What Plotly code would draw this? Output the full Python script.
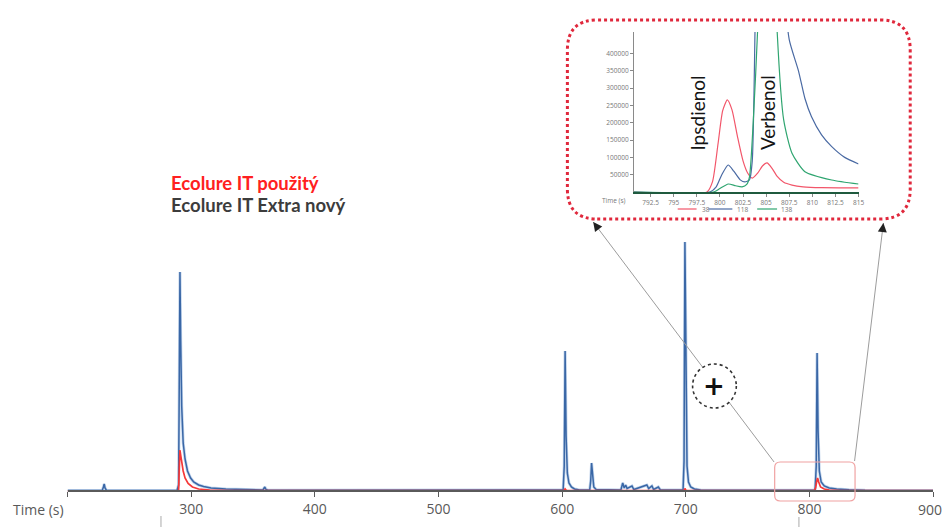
import plotly.graph_objects as go

# ---------------- main chromatogram (retention time in s, relative abundance) ----------------
extra_t = [200, 228, 229, 229.6, 230.3, 231.5, 288.5, 289.8, 290.4, 290.9, 291.5, 292.3, 293.5,
           295, 297, 299.5, 302, 306, 310, 316, 328, 345, 358, 359.5, 360.5, 362, 450, 540,
           600.8, 601.7, 602.4, 603.2, 604.2, 605.5, 607.5, 610, 614, 622.3, 623.1, 623.8, 624.6,
           625.6, 627.5, 647.5, 649, 650.2, 651.4, 652.5, 656.5, 658, 668.5, 670, 672.6, 674,
           677.8, 679.5, 697.8, 698.6, 699.3, 700.1, 701, 702.2, 704, 707, 712, 760, 804.6,
           805.5, 806.2, 807, 808, 809.5, 812, 816, 822, 832, 845, 900]
extra_y = [0.5, 0.5, 4, 7, 3, 0.5, 0.5, 6, 120, 219, 150, 85, 48,
           32, 20, 13, 9, 6, 4.5, 3, 2, 1.2, 1, 4, 1.5, 0.8, 0.6, 0.6,
           1, 25, 140, 55, 18, 8, 4, 2, 1, 1, 10, 28, 12,
           4, 1.5, 1, 8, 3, 6, 2.5, 5, 1.5, 6, 2.5, 5, 1.5,
           4, 1, 1, 30, 249, 100, 25, 9, 4, 2, 1, 0.7, 1,
           25, 138, 60, 20, 9, 5, 3, 2, 1.3, 0.8, 0.5]

used_t = [200, 289.8, 290.4, 290.9, 291.6, 292.5, 293.5, 295, 297.5, 301, 306, 315, 330,
          601.5, 602.4, 603.5, 698.6, 699.3, 700.3, 804, 805, 805.8, 806.6, 807.5, 809,
          812, 816, 825, 900]
used_y = [0, 0.3, 25, 41, 35, 27, 20, 13, 7.5, 4, 2, 1, 0.4,
          0.4, 2, 0.4, 0.4, 2.5, 0.4, 0.5, 3, 9, 13, 9, 4,
          2, 1, 0.5, 0.3]

main_ticks = [200, 300, 400, 500, 600, 700, 800, 900]
main_ticktext = ["", "300", "400", "500", "600", "700", "800", ""]
last_tick_label = "900"               # drawn separately so it stays inside the page
zoom_window = (771.9, 836.9)          # retention-time window enlarged in the inset

# ---------------- inset: extracted ions around 790–815 s ----------------
ion38_t = [790.7, 798.6, 799.2, 799.8, 800.3, 800.8, 801.3, 801.9, 802.5, 803.0, 803.5, 804.1,
           804.6, 805.1, 805.6, 806.2, 806.9, 807.8, 809, 811, 815]
ion38_v = [0, 0, 30000, 140000, 235000, 266000, 238000, 160000, 90000, 55000, 40000, 55000,
           75000, 84000, 70000, 45000, 28000, 20000, 15000, 12500, 12000]

ion118_t = [790.7, 798.9, 799.6, 800.2, 800.9, 801.5, 802.2, 802.7, 803.2, 803.5, 803.8, 804.2,
            805.5, 806.8, 807.0, 807.5, 808.5, 809.2, 809.9, 811.0, 812.1, 813.5, 815]
ion118_v = [0, 0, 15000, 50000, 78000, 60000, 35000, 29000, 35000, 90000, 470000, 1100000,
            1600000, 1000000, 600000, 440000, 350000, 270000, 218000, 165000, 131000, 100000, 81000]

ion138_t = [790.7, 799.3, 800.0, 800.9, 801.7, 802.4, 802.9, 803.2, 803.6, 804.1, 804.5, 805.2,
            805.8, 806.2, 806.9, 807.8, 809.2, 812.1, 815]
ion138_v = [0, 0, 10000, 23000, 18000, 15000, 22000, 44000, 200000, 480000, 900000, 1300000,
            800000, 460000, 208000, 112000, 58700, 34700, 23000]

inset_xticks = [792.5, 795, 797.5, 800, 802.5, 805, 807.5, 810, 812.5, 815]
inset_yticks = [50000, 100000, 150000, 200000, 250000, 300000, 350000, 400000]
ion_labels = ["38", "118", "138"]

W, H = 950, 527


def px(x):
    return min(x / W, 1.0)


def py(y):
    return 1 - y / H


RED = "#f53838"
BLUE = "#3a67a6"
INSET_RED = "#f2566a"
INSET_BLUE = "#4a6aa3"
INSET_GREEN = "#2fa570"
TICK_FONT = dict(family="Open Sans", size=14, color="#595959")

fig = go.Figure()

# main traces (blue drawn with a soft halo)
fig.add_trace(go.Scatter(x=extra_t, y=extra_y, mode="lines", line=dict(color="#c3d5ec", width=3),
                         hoverinfo="skip", showlegend=False))
fig.add_trace(go.Scatter(x=extra_t, y=extra_y, mode="lines", line=dict(color=BLUE, width=1.5),
                         name="Ecolure IT Extra nový", showlegend=False))
fig.add_trace(go.Scatter(x=used_t, y=used_y, mode="lines", line=dict(color=RED, width=1.7),
                         name="Ecolure IT použitý", showlegend=False))

# inset traces
for t, v, c, n in [(ion38_t, ion38_v, INSET_RED, ion_labels[0]),
                   (ion118_t, ion118_v, INSET_BLUE, ion_labels[1]),
                   (ion138_t, ion138_v, INSET_GREEN, ion_labels[2])]:
    fig.add_trace(go.Scatter(x=t, y=v, mode="lines", line=dict(color=c, width=1.2, shape="spline", smoothing=0.6),
                             name=n, showlegend=False, xaxis="x2", yaxis="y2"))

fig.update_layout(
    width=W, height=H, autosize=False,
    margin=dict(l=0, r=0, t=0, b=0),
    paper_bgcolor="white", plot_bgcolor="rgba(0,0,0,0)",
    xaxis=dict(domain=[px(68), px(939)], range=[200, 900], anchor="free", position=py(491),
               showgrid=False, zeroline=False, showline=True, linecolor="#5a5a5a", linewidth=1.5,
               ticks="outside", ticklen=5, tickcolor="#5a5a5a", tickwidth=1.2,
               tickvals=main_ticks, ticktext=main_ticktext, tickfont=TICK_FONT),
    yaxis=dict(domain=[py(503), py(229)], range=[-12, 262], visible=False),
    xaxis2=dict(domain=[px(638), px(864)], range=[790.7, 815], anchor="y2",
                showgrid=False, zeroline=False, showline=True, linecolor="#1f5a3e", linewidth=2,
                ticks="outside", ticklen=3, tickcolor="#888",
                tickvals=inset_xticks, ticktext=[f"{v:g}" for v in inset_xticks],
                tickfont=dict(family="Open Sans", size=6.5, color="#777")),
    yaxis2=dict(domain=[py(192), py(32)], range=[0, 462000], anchor="x2",
                showgrid=False, zeroline=False, showline=True, linecolor="#8a8a8a", linewidth=1,
                ticks="outside", ticklen=3, tickcolor="#888",
                tickvals=inset_yticks, ticktext=[str(v) for v in inset_yticks],
                tickfont=dict(family="Open Sans", size=6.5, color="#777")),
)

shapes = []


def rounded_path(x0, y0, x1, y1, rx, ry):
    """Closed rounded rectangle; y0 is the lower edge in the target coordinate system."""
    return (f"M {x0 + rx},{y0} L {x1 - rx},{y0} Q {x1},{y0} {x1},{y0 + ry} "
            f"L {x1},{y1 - ry} Q {x1},{y1} {x1 - rx},{y1} L {x0 + rx},{y1} "
            f"Q {x0},{y1} {x0},{y1 - ry} L {x0},{y0 + ry} Q {x0},{y0} {x0 + rx},{y0} Z")


# connector lines from the highlighted window to the inset
shapes.append(dict(type="line", xref="paper", yref="paper", x0=px(597), y0=py(222), x1=px(779), y1=py(462),
                   line=dict(color="#9c9c9c", width=1)))
shapes.append(dict(type="line", xref="paper", yref="paper", x0=px(889), y0=py(223), x1=px(860), y1=py(461),
                   line=dict(color="#9c9c9c", width=1)))

# highlighted retention-time window on the main chromatogram
shapes.append(dict(type="path", xref="x", yref="y",
                   path=rounded_path(zoom_window[0], -10, zoom_window[1], 29, 4.5, 5.5),
                   line=dict(color="#f0a2a2", width=1.2)))

# zoom badge
shapes.append(dict(type="circle", xref="paper", yref="paper",
                   x0=px(697), x1=px(741), y0=py(408), y1=py(364),
                   fillcolor="white", line=dict(color="#333", width=1.6, dash="dot")))

# inset frame (dotted, rounded)
r = 30
shapes.append(dict(type="path", xref="paper", yref="paper",
                   path=rounded_path(px(571), py(219), px(916), py(20), r / W, r / H),
                   line=dict(color="#e0283c", width=3, dash="dot")))

# inset legend samples
for xa, xb, c in [(682, 701, INSET_RED), (713, 737, INSET_BLUE), (762, 782, INSET_GREEN)]:
    shapes.append(dict(type="line", xref="paper", yref="paper", x0=px(xa), x1=px(xb),
                       y0=py(209), y1=py(209), line=dict(color=c, width=1.2)))

# small marks below the axis
shapes.append(dict(type="line", xref="paper", yref="paper", x0=px(162), x1=px(162), y0=py(516), y1=py(527),
                   line=dict(color="#aaa", width=1)))
shapes.append(dict(type="line", xref="paper", yref="paper", x0=px(804), x1=px(804), y0=py(517), y1=py(527),
                   line=dict(color="#aaa", width=1)))

annotations = [
    dict(text="<b>Ecolure IT použitý</b>", xref="paper", yref="paper", x=px(170), y=py(183),
         xanchor="left", yanchor="middle", showarrow=False,
         font=dict(family="Lato", size=18.5, color="#ff2020")),
    dict(text="<b>Ecolure IT Extra nový</b>", xref="paper", yref="paper", x=px(170), y=py(205),
         xanchor="left", yanchor="middle", showarrow=False,
         font=dict(family="Lato", size=18.5, color="#3c3c3c")),
    dict(text="Time (s)", xref="paper", yref="paper", x=px(11), y=py(509),
         xanchor="left", yanchor="middle", showarrow=False, font=TICK_FONT),
    dict(text=last_tick_label, xref="paper", yref="paper", x=1.0, y=py(509),
         xanchor="right", yanchor="middle", showarrow=False, font=TICK_FONT),
    dict(text="<b>+</b>", xref="paper", yref="paper", x=px(719), y=py(386),
         xanchor="center", yanchor="middle", showarrow=False,
         font=dict(family="DejaVu Sans", size=26, color="#111")),
    dict(text="Ipsdienol", xref="paper", yref="paper", x=px(702), y=py(113), textangle=-90,
         xanchor="center", yanchor="middle", showarrow=False,
         font=dict(family="Lato", size=19, color="#151515")),
    dict(text="Verbenol", xref="paper", yref="paper", x=px(773), y=py(113), textangle=-90,
         xanchor="center", yanchor="middle", showarrow=False,
         font=dict(family="Lato", size=19, color="#151515")),
    dict(text="Time (s)", xref="paper", yref="paper", x=px(618), y=py(200),
         xanchor="center", yanchor="middle", showarrow=False,
         font=dict(family="Open Sans", size=6.5, color="#777")),
]
for xt, lab in [(704, ion_labels[0]), (740, ion_labels[1]), (784, ion_labels[2])]:
    annotations.append(dict(text=lab, xref="paper", yref="paper", x=px(xt), y=py(209),
                            xanchor="left", yanchor="middle", showarrow=False,
                            font=dict(family="Open Sans", size=6.5, color="#777")))

# arrowheads where the connectors meet the inset frame
for hx, hy, dx, dy in [(597, 222, 6, 8), (889, 223, -1.2, 10)]:
    annotations.append(dict(text="", xref="paper", yref="paper", x=px(hx), y=py(hy),
                            ax=dx, ay=dy, showarrow=True, arrowhead=2, arrowsize=1.2,
                            arrowwidth=1.5, arrowcolor="#222"))

fig.update_layout(shapes=shapes, annotations=annotations)

fig.write_html("out.html")
